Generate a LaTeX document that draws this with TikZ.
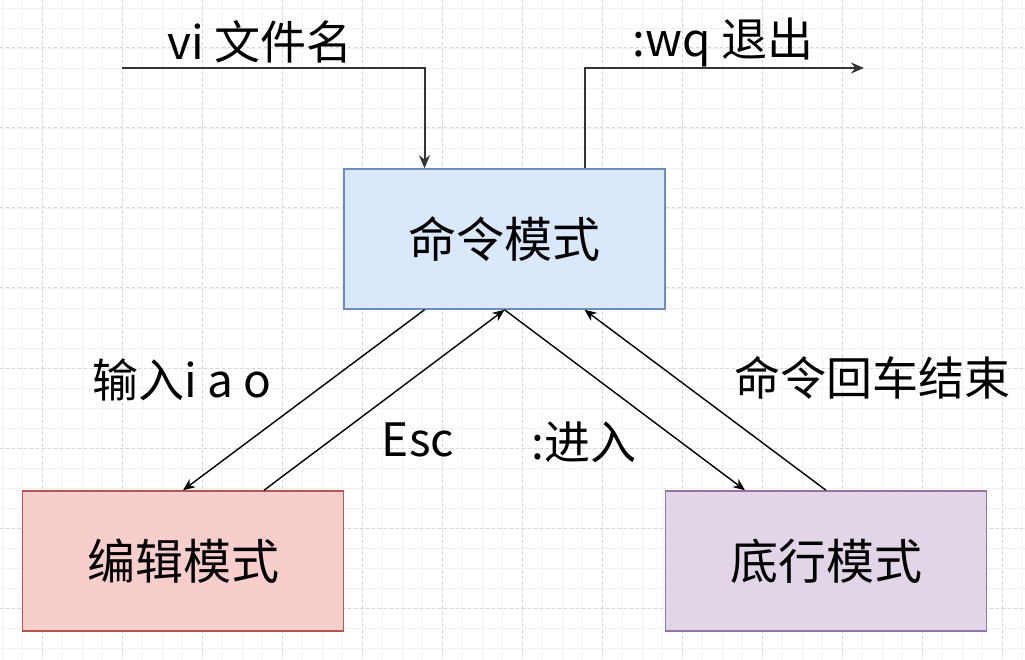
\documentclass[tikz,border=0pt]{standalone}
\usepackage{fontspec}
\setmainfont{Noto Sans CJK SC}
\usetikzlibrary{arrows.meta,positioning,calc}

\definecolor{cmdfill}{HTML}{DAE8FC}
\definecolor{cmdline}{HTML}{6C8EBF}
\definecolor{editfill}{HTML}{F8CECC}
\definecolor{editline}{HTML}{B85450}
\definecolor{lastfill}{HTML}{E1D5E7}
\definecolor{lastline}{HTML}{9673A6}

\begin{document}
\begin{tikzpicture}[x=1pt,y=-1pt,>={Stealth[length=13pt,width=11pt]},
	mode/.style={draw,minimum width=321pt,minimum height=140pt,inner sep=0pt,line width=1.5pt,font=\fontsize{48}{54}\selectfont},
	lbl/.style={inner sep=0pt,font=\fontsize{46}{52}\selectfont},
	minor/.style={draw=black!5,line width=0.8pt},
	major/.style={draw=black!16,dashed,line width=1pt}]
	\useasboundingbox (0,0) rectangle (1025,660);
	% background grid
	\foreach \x in {2,22,...,1022} \draw[minor] (\x,0) -- (\x,660);
	\foreach \y in {8,28,...,648} \draw[minor] (0,\y) -- (1025,\y);
	\foreach \x in {42,122,...,1002} \draw[major] (\x,0) -- (\x,660);
	\foreach \y in {48,128,...,608} \draw[major] (0,\y) -- (1025,\y);
	% modes
	\node[mode,fill=cmdfill,draw=cmdline] (m_cmd) at (504.5,239) {命令模式};
	\node[mode,fill=editfill,draw=editline] (m_edit) at (183,561) {编辑模式};
	\node[mode,fill=lastfill,draw=lastline] (m_last) at (826,561) {底行模式};
	\coordinate (vi_in) at (122,68);
	\coordinate (wq_out) at (864,68);
	% transitions
	\draw[->,line width=2pt,black!80] (vi_in) -| ([xshift=-80pt]m_cmd.north);
	\draw[->,line width=2pt,black!80] ([xshift=80pt]m_cmd.north) |- (wq_out);
	\path[-{Stealth[length=12pt,width=10pt]},line width=1.4pt]
		([xshift=-80pt]m_cmd.south) edge (m_edit.north)
		([xshift=81pt]m_edit.north) edge (m_cmd.south)
		(m_cmd.south) edge ([xshift=-81pt]m_last.north)
		(m_last.north) edge ([xshift=80pt]m_cmd.south);
	% labels
	\node[lbl] (t_vi) at (260,42) {vi 文件名};
	\node[lbl] (t_wq) at (723,42) {:wq 退出};
	\node[lbl] (t_ins) at (182,380) {输入i a o};
	\node[lbl] (t_esc) at (418,440) {Esc};
	\node[lbl] (t_colon) at (584,442) {:进入};
	\node[lbl] (t_ret) at (872,378) {命令回车结束};
\end{tikzpicture}
\end{document}
